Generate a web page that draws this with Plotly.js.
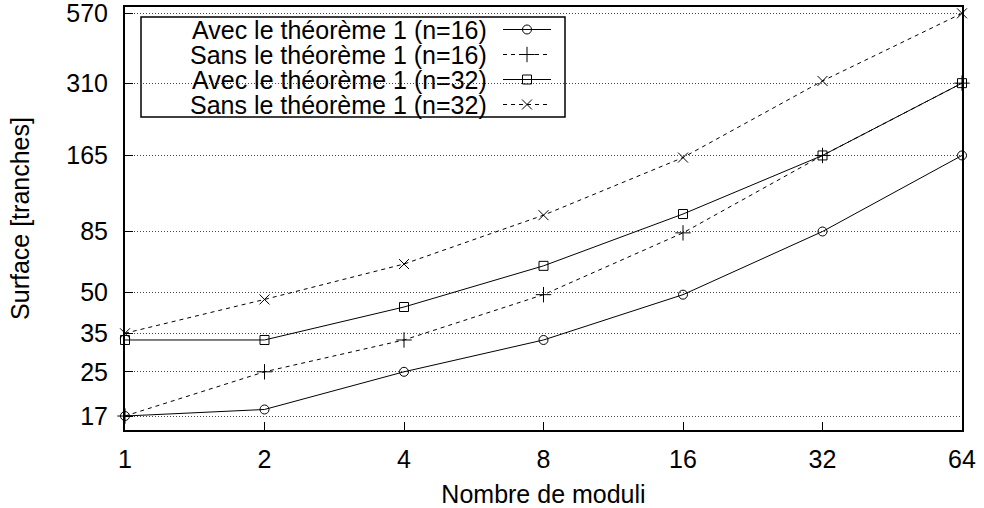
<!DOCTYPE html>
<html>
<head>
<meta charset="utf-8">
<script src="https://cdn.plot.ly/plotly-3.0.1.min.js"></script>
<style>html,body{margin:0;padding:0;background:#fff;}#chart{width:984px;height:508px;}</style>
</head>
<body>
<div id="chart"></div>
<script>
// ---- data ----
var moduli = [1, 2, 4, 8, 16, 32, 64];
var xTickLabels = ['1', '2', '4', '8', '16', '32', '64'];
var yTickValues = [17, 25, 35, 50, 85, 165, 310, 570];
var yTickLabels = ['17', '25', '35', '50', '85', '165', '310', '570'];
var seriesNames = [
  'Avec le théorème 1 (n=16)',
  'Sans le théorème 1 (n=16)',
  'Avec le théorème 1 (n=32)',
  'Sans le théorème 1 (n=32)'
];
var avec16 = [17, 18, 25, 33, 49, 85, 165];
var sans16 = [17, 25, 33, 49, 84, 165, 310];
var avec32 = [33, 33, 44, 63, 99, 165, 310];
var sans32 = [35, 47, 64, 98, 162, 316, 570];

// ---- styles ----
var FONT = '"Liberation Sans", Arial, Helvetica, sans-serif';
var FS = 25;
var DASH = '4px,4px';
var styles = [
  {dash: 'solid', symbol: 'circle-open', size: 9},
  {dash: DASH, symbol: 'cross-thin', size: 11},
  {dash: 'solid', symbol: 'square-open', size: 9},
  {dash: DASH, symbol: 'x-thin', size: 10}
];
var allSeries = [avec16, sans16, avec32, sans32];

var traces = [];
allSeries.forEach(function (ys, i) {
  var s = styles[i];
  traces.push({
    x: moduli, y: ys, type: 'scatter', mode: 'lines+markers',
    name: seriesNames[i], showlegend: false, cliponaxis: false,
    line: {color: '#000', width: 1, dash: s.dash},
    marker: {symbol: s.symbol, size: s.size, color: '#000', line: {color: '#000', width: 1}}
  });
});

// ---- custom legend (gnuplot style: text right-aligned, sample on the right) ----
// overlay axes x2/y2 are set to pixel coordinates of the plot area
var legRows = [29.5, 54.5, 79.5, 104.5];
var annotations = [];
seriesNames.forEach(function (nm, i) {
  var s = styles[i];
  var ry = legRows[i];
  traces.push({
    x: [503, 551], y: [ry, ry], xaxis: 'x2', yaxis: 'y2', type: 'scatter', mode: 'lines',
    showlegend: false, hoverinfo: 'skip', cliponaxis: false,
    line: {color: '#000', width: 1, dash: s.dash}
  });
  traces.push({
    x: [527], y: [ry], xaxis: 'x2', yaxis: 'y2', type: 'scatter', mode: 'markers',
    showlegend: false, hoverinfo: 'skip', cliponaxis: false,
    marker: {symbol: s.symbol, size: s.size, color: '#000', line: {color: '#000', width: 1}}
  });
  annotations.push({
    xref: 'x2', yref: 'y2', x: 489, y: ry, xanchor: 'right', yanchor: 'middle',
    text: nm, showarrow: false, font: {family: FONT, size: FS, color: '#000'}
  });
});

var layout = {
  width: 984, height: 508,
  margin: {l: 125, r: 22, t: 7, b: 78, pad: 0},
  paper_bgcolor: '#fff', plot_bgcolor: '#fff',
  font: {family: FONT, size: FS, color: '#000'},
  showlegend: false,
  xaxis: {
    type: 'log', range: [0, Math.log10(64)],
    tickmode: 'array', tickvals: moduli, ticktext: xTickLabels,
    ticks: 'inside', ticklen: 8, tickwidth: 1, tickcolor: '#000',
    ticklabelstandoff: 6, ticklabeloverflow: 'allow',
    showgrid: false, zeroline: false,
    showline: true, mirror: true, linecolor: '#000', linewidth: 2,
    tickfont: {family: FONT, size: FS, color: '#000'},
    title: {text: 'Nombre de moduli', font: {family: FONT, size: FS, color: '#000'}, standoff: 17},
    fixedrange: true
  },
  yaxis: {
    type: 'log', range: [Math.log10(15.05), 2.7798],
    tickmode: 'array', tickvals: yTickValues, ticktext: yTickLabels,
    ticks: 'inside', ticklen: 8, tickwidth: 1, tickcolor: '#000',
    ticklabelstandoff: 10, ticklabeloverflow: 'allow',
    showgrid: true, gridcolor: '#444', gridwidth: 1, griddash: '1px,2px',
    zeroline: false,
    showline: true, mirror: true, linecolor: '#000', linewidth: 2,
    tickfont: {family: FONT, size: FS, color: '#000'},
    title: {text: 'Surface [tranches]', font: {family: FONT, size: FS, color: '#000'}, standoff: 30},
    fixedrange: true
  },
  xaxis2: {overlaying: 'x', range: [125, 962], visible: false, fixedrange: true},
  yaxis2: {overlaying: 'y', range: [430, 7], visible: false, fixedrange: true},
  shapes: [{
    type: 'rect', xref: 'x2', yref: 'y2', x0: 141, x1: 565, y0: 17, y1: 117,
    fillcolor: '#fff', line: {color: '#000', width: 1.5}, layer: 'below'
  }],
  annotations: annotations
};

Plotly.newPlot('chart', traces, layout, {staticPlot: true, displayModeBar: false});
</script>
</body>
</html>
